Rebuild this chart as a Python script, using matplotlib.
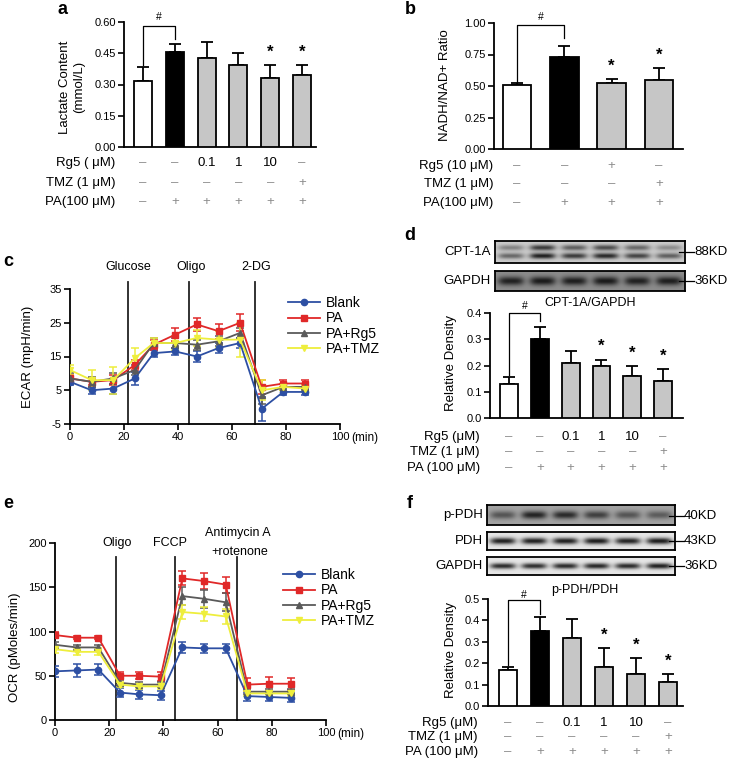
import numpy as np
import matplotlib
matplotlib.use('Agg')
import matplotlib.pyplot as plt

plt.rcParams['font.family'] = ['Liberation Sans', 'DejaVu Sans']
plt.rcParams['axes.unicode_minus'] = False

# ---------------- data ----------------
lactate = [0.315, 0.455, 0.425, 0.395, 0.330, 0.345]
lactate_err = [0.070, 0.040, 0.080, 0.055, 0.063, 0.047]
nadh = [0.505, 0.730, 0.525, 0.550]
nadh_err = [0.020, 0.085, 0.030, 0.090]
cpt = [0.13, 0.30, 0.21, 0.20, 0.16, 0.14]
cpt_err = [0.025, 0.045, 0.045, 0.022, 0.037, 0.045]
ppdh = [0.17, 0.35, 0.32, 0.18, 0.15, 0.11]
ppdh_err = [0.010, 0.065, 0.085, 0.090, 0.075, 0.040]

rg5_6 = ['–', '–', '0.1', '1', '10', '–']
tmz_6 = ['–', '–', '–', '–', '–', '+']
pa_6 = ['–', '+', '+', '+', '+', '+']
rg5_4 = ['–', '–', '+', '–']
tmz_4 = ['–', '–', '–', '+']
pa_4 = ['–', '+', '+', '+']

time = [0, 8, 16, 24, 31, 39, 47, 55, 63, 71, 79, 87]
series_names = ['Blank', 'PA', 'PA+Rg5', 'PA+TMZ']
ecar_blank = [7.5, 5.0, 5.5, 8.5, 16.0, 16.5, 15.0, 17.5, 19.0, -0.5, 4.5, 4.5]
ecar_pa = [8.5, 7.5, 8.0, 12.5, 18.5, 21.5, 24.5, 22.5, 25.0, 6.0, 7.0, 7.0]
ecar_rg5 = [8.5, 7.5, 8.5, 11.0, 19.0, 19.0, 18.5, 19.5, 22.0, 3.5, 6.0, 6.0]
ecar_tmz = [11.0, 8.0, 8.0, 14.5, 19.0, 19.0, 20.5, 20.0, 20.0, 5.0, 6.0, 5.5]
ecar_blank_err = [1.0, 1.0, 1.5, 2.0, 1.0, 1.0, 1.5, 1.5, 1.5, 3.5, 1.0, 1.0]
ecar_pa_err = [1.0, 1.0, 1.5, 1.5, 1.5, 2.0, 1.8, 2.2, 2.5, 2.0, 1.0, 1.0]
ecar_rg5_err = [1.5, 1.5, 1.5, 1.5, 1.5, 1.5, 1.5, 1.5, 1.5, 2.5, 1.0, 1.0]
ecar_tmz_err = [1.5, 3.0, 4.0, 3.0, 1.5, 2.0, 2.5, 2.5, 5.0, 3.0, 1.0, 1.0]

ocr_blank = [55, 56, 57, 31, 29, 28, 82, 81, 81, 27, 26, 25]
ocr_pa = [96, 93, 93, 50, 50, 49, 160, 157, 153, 40, 41, 41]
ocr_rg5 = [85, 82, 82, 42, 40, 40, 140, 137, 133, 32, 32, 32]
ocr_tmz = [80, 77, 77, 40, 38, 38, 122, 120, 117, 30, 30, 30]
ocr_blank_err = [6, 7, 6, 5, 5, 5, 6, 5, 5, 5, 5, 5]
ocr_pa_err = [3, 2, 2, 4, 4, 5, 8, 9, 9, 7, 8, 7]
ocr_rg5_err = [3, 3, 3, 3, 3, 3, 10, 10, 10, 3, 3, 3]
ocr_tmz_err = [4, 4, 4, 3, 3, 3, 8, 8, 8, 3, 3, 3]

ecar_events = [21.5, 44.0, 68.5]
ecar_event_labels = ['Glucose', 'Oligo', '2-DG']
ocr_events = [22.5, 44.3, 67.2]

# western blot band intensities (0 = none, 1 = darkest)
cpt1a_upper = [0.40, 0.80, 0.60, 0.70, 0.55, 0.35]
cpt1a_lower = [0.55, 0.95, 0.80, 0.90, 0.75, 0.60]
gapdh_d = [0.90, 0.95, 0.92, 0.95, 0.90, 0.92]
ppdh_band = [0.55, 0.90, 0.85, 0.70, 0.55, 0.50]
pdh_band = [0.95, 0.95, 0.95, 0.97, 0.93, 0.97]
gapdh_f = [0.90, 0.88, 0.90, 0.92, 0.90, 0.95]

# ---------------- figure ----------------
W, H = 733, 764
fig = plt.figure(figsize=(W / 100, H / 100), dpi=100)


def ax_px(x0, y0, x1, y1):
    return fig.add_axes([x0 / W, 1 - y1 / H, (x1 - x0) / W, (y1 - y0) / H])


ov = fig.add_axes([0, 0, 1, 1])
ov.set_xlim(0, W)
ov.set_ylim(H, 0)
ov.axis('off')
ov.patch.set_visible(False)
ov.set_zorder(10)

TICK_FS = 8
LAB_FS = 9.5
ROW_FS = 9.5
GRAYSYM = '#8c8c8c'


def style_axes(ax, lw=1.3):
    for s in ['top', 'right']:
        ax.spines[s].set_visible(False)
    for s in ['left', 'bottom']:
        ax.spines[s].set_linewidth(lw)
    ax.tick_params(axis='both', direction='out', length=4, width=1.2,
                   labelsize=TICK_FS, pad=2)


def bar_panel(box, vals, errs, xlim, ylim, yticks, fmt, width, bracket,
              hash_y, stars, rows, row_texts, rows_y, label_x):
    x0, y0, x1, y1 = box
    ax = ax_px(x0, y0, x1, y1)
    n = len(vals)
    xs = np.arange(n)
    colors = ['white', 'black'] + ['#c6c6c6'] * (n - 2)
    ax.bar(xs, vals, width=width, color=colors, edgecolor='black',
           linewidth=1.3, zorder=3)
    ax.errorbar(xs, vals, yerr=[np.zeros(n), errs], fmt='none', ecolor='black',
                elinewidth=1.3, capsize=4, capthick=1.3, zorder=2)
    ax.set_xlim(*xlim)
    ax.set_ylim(*ylim)
    ax.set_yticks(yticks)
    ax.set_yticklabels([fmt.format(t) for t in yticks])
    ax.set_xticks([])
    style_axes(ax)
    # bracket
    lb, top, rb = bracket
    ax.plot([0, 0, 1, 1], [lb, top, top, rb], color='black', lw=0.9,
            clip_on=False, zorder=4)
    ax.text(0.5, hash_y, '#', ha='center', va='center', fontsize=7.5,
            clip_on=False)
    for i in stars:
        ax.annotate('*', xy=(i, vals[i] + errs[i]), xytext=(0, 4),
                    textcoords='offset points', ha='center', va='bottom',
                    fontsize=12, fontweight='bold', annotation_clip=False)
    # rows of treatments
    hpx = y1 - y0
    for row, txt, ry in zip(rows, row_texts, rows_y):
        ov.text(label_x, ry, txt, ha='right', va='center', fontsize=ROW_FS)
        yfrac = -(ry - y1) / hpx
        for i, s in enumerate(row):
            c = GRAYSYM if s in ('–', '+') else 'black'
            ax.text(i, yfrac, s, transform=ax.get_xaxis_transform(),
                    ha='center', va='center', fontsize=ROW_FS, color=c,
                    clip_on=False)
    return ax


# ---- panel a ----
bar_panel((124, 22, 316, 147), lactate, lactate_err, (-0.6, 5.44), (0, 0.6),
          [0, 0.15, 0.30, 0.45, 0.60], '{:.2f}', 0.57,
          (0.395, 0.58, 0.52), 0.625, [4, 5],
          [rg5_6, tmz_6, pa_6], ['Rg5 ( μM)', 'TMZ (1 μM)', 'PA(100 μM)'],
          [163, 183, 202], 115)
ov.text(72, 87, 'Lactate Content\n(mmol/L)', rotation=90, ha='center',
        va='center', fontsize=LAB_FS, linespacing=1.15)

# ---- panel b ----
bar_panel((494, 23, 683, 149), nadh, nadh_err, (-0.49, 3.51), (0, 1.0),
          [0, 0.25, 0.50, 0.75, 1.00], '{:.2f}', 0.6,
          (0.535, 0.985, 0.88), 1.05, [2, 3],
          [rg5_4, tmz_4, pa_4], ['Rg5 (10 μM)', 'TMZ (1 μM)', 'PA(100 μM)'],
          [166, 184, 203], 493)
ov.text(445, 85, 'NADH/NAD+ Ratio', rotation=90, ha='center', va='center',
        fontsize=LAB_FS)

# ---- panel d ----
bar_panel((490, 313, 683, 418), cpt, cpt_err, (-0.62, 5.65), (0, 0.4),
          [0, 0.1, 0.2, 0.3, 0.4], '{:.1f}', 0.58,
          (0.165, 0.4, 0.37), 0.425, [3, 4, 5],
          [rg5_6, tmz_6, pa_6], ['Rg5 (μM)', 'TMZ (1 μM)', 'PA (100 μM)'],
          [437, 452, 468], 480)
ov.text(451, 363, 'Relative Density', rotation=90, ha='center', va='center',
        fontsize=LAB_FS)
ov.text(590, 303, 'CPT-1A/GAPDH', ha='center', va='center', fontsize=9)

# ---- panel f ----
bar_panel((488, 599, 683, 706), ppdh, ppdh_err, (-0.625, 5.47), (0, 0.5),
          [0, 0.1, 0.2, 0.3, 0.4, 0.5], '{:.1f}', 0.58,
          (0.19, 0.497, 0.43), 0.52, [3, 4, 5],
          [rg5_6, tmz_6, pa_6], ['Rg5 (μM)', 'TMZ (1 μM)', 'PA (100 μM)'],
          [723, 737, 752], 478)
ov.text(451, 650, 'Relative Density', rotation=90, ha='center', va='center',
        fontsize=LAB_FS)
ov.text(585, 590, 'p-PDH/PDH', ha='center', va='center', fontsize=9)


# ---------------- line panels ----------------
LINE_STYLE = [('#2d4fa3', 'o'), ('#e02828', 's'), ('#5a5a5a', '^'),
              ('#eeee3c', 'v')]


def line_panel(box, data, errs, ylim, yticks, events, ev_top_frac, ylabel_xy,
               ylabel, legend_xy):
    x0, y0, x1, y1 = box
    ax = ax_px(x0, y0, x1, y1)
    handles = []
    for (col, mk), ys, es, name in zip(LINE_STYLE, data, errs, series_names):
        ax.errorbar(time, ys, yerr=es, fmt='none', ecolor=col, elinewidth=1.1,
                    capsize=3, capthick=1.1, zorder=3)
        h, = ax.plot(time, ys, color=col, marker=mk, markersize=4.5,
                     lw=1.3, label=name, zorder=4)
        handles.append(h)
    for ev in events:
        ax.plot([ev, ev], [0, ev_top_frac], transform=ax.get_xaxis_transform(),
                color='#222222', lw=1.3, clip_on=False, zorder=2)
    ax.set_xlim(0, 100)
    ax.set_ylim(*ylim)
    ax.set_xticks([0, 20, 40, 60, 80, 100])
    ax.set_yticks(yticks)
    style_axes(ax)
    ax.annotate('(min)', xy=(100, 0), xycoords=ax.get_xaxis_transform(),
                xytext=(8, -6), textcoords='offset points', ha='left',
                va='top', fontsize=8.5)
    ov.text(ylabel_xy[0], ylabel_xy[1], ylabel, rotation=90, ha='center',
            va='center', fontsize=LAB_FS)
    fig.legend(handles=handles, loc='upper left',
               bbox_to_anchor=(legend_xy[0] / W, 1 - legend_xy[1] / H),
               frameon=False, fontsize=10, handlelength=2.3,
               handletextpad=0.4, labelspacing=0.1, borderpad=0,
               borderaxespad=0)
    return ax


# ---- panel c ----
line_panel((70, 289, 340, 424), [ecar_blank, ecar_pa, ecar_rg5, ecar_tmz],
           [ecar_blank_err, ecar_pa_err, ecar_rg5_err, ecar_tmz_err],
           (-5, 35), [-5, 5, 15, 25, 35], ecar_events, 1.05, (28, 357),
           'ECAR (mpH/min)', (288, 296))
for ev_x, lab in zip([128, 191, 256], ecar_event_labels):
    ov.text(ev_x, 267, lab, ha='center', va='center', fontsize=9)

# ---- panel e ----
line_panel((55, 543, 326, 720), [ocr_blank, ocr_pa, ocr_rg5, ocr_tmz],
           [ocr_blank_err, ocr_pa_err, ocr_rg5_err, ocr_tmz_err],
           (0, 200), [0, 50, 100, 150, 200], ocr_events, 0.92, (15, 647),
           'OCR (pMoles/min)', (283, 568))
ov.text(117, 543, 'Oligo', ha='center', va='center', fontsize=9)
ov.text(170, 543, 'FCCP', ha='center', va='center', fontsize=9)
ov.text(238, 533, 'Antimycin A', ha='center', va='center', fontsize=9)
ov.text(240, 552, '+rotenone', ha='center', va='center', fontsize=9)


# ---------------- western blots ----------------
def blot(box, band_rows, band_ys, band_h, bg, label, kd, kd_y):
    x0, y0, x1, y1 = box
    ax = ax_px(x0, y0, x1, y1)
    nx, ny = 300, 60
    xx = np.linspace(0, 1, nx)[None, :]
    yy = np.linspace(0, 1, ny)[:, None]
    dark = np.zeros((ny, nx))
    for bands, by in zip(band_rows, band_ys):
        for i, b in enumerate(bands):
            xc = (i + 0.5) / len(bands)
            dark += b * np.exp(-((xx - xc) / 0.068) ** 4) * \
                np.exp(-((yy - by) / band_h) ** 2)
    dark = np.clip(dark, 0, 1)
    img = bg - (bg - 0.08) * dark
    ax.imshow(img, cmap='gray', vmin=0, vmax=1, aspect='auto',
              extent=(0, 1, 1, 0), interpolation='bilinear')
    ax.set_xticks([])
    ax.set_yticks([])
    for s in ax.spines.values():
        s.set_linewidth(1.3)
    ov.text(x0 - 4, (y0 + y1) / 2, label, ha='right', va='center', fontsize=9.5)
    ov.plot([x1 - 6, x1 + 9], [kd_y, kd_y], color='black', lw=0.9)
    ov.text(x1 + 9, kd_y, kd, ha='left', va='center', fontsize=9.5)


blot((495, 241, 685, 263), [cpt1a_upper, cpt1a_lower], [0.3, 0.68], 0.13,
     0.80, 'CPT-1A', '88KD', 252)
blot((495, 271, 685, 291), [gapdh_d], [0.5], 0.22, 0.55, 'GAPDH', '36KD', 281)
blot((487, 505, 675, 525), [ppdh_band], [0.5], 0.2, 0.64, 'p-PDH', '40KD', 516)
blot((487, 532, 675, 550), [pdh_band], [0.5], 0.18, 0.9, 'PDH', '43KD', 541)
blot((487, 557, 675, 575), [gapdh_f], [0.5], 0.16, 0.9, 'GAPDH', '36KD', 566)

# ---------------- panel letters ----------------
for lx, ly, let in [(62, 9, 'a'), (410, 9, 'b'), (8, 262, 'c'),
                    (410, 235, 'd'), (8, 503, 'e'), (410, 503, 'f')]:
    ov.text(lx, ly, let, ha='center', va='center', fontsize=13,
            fontweight='bold')

fig.savefig('out.png', dpi=100)
